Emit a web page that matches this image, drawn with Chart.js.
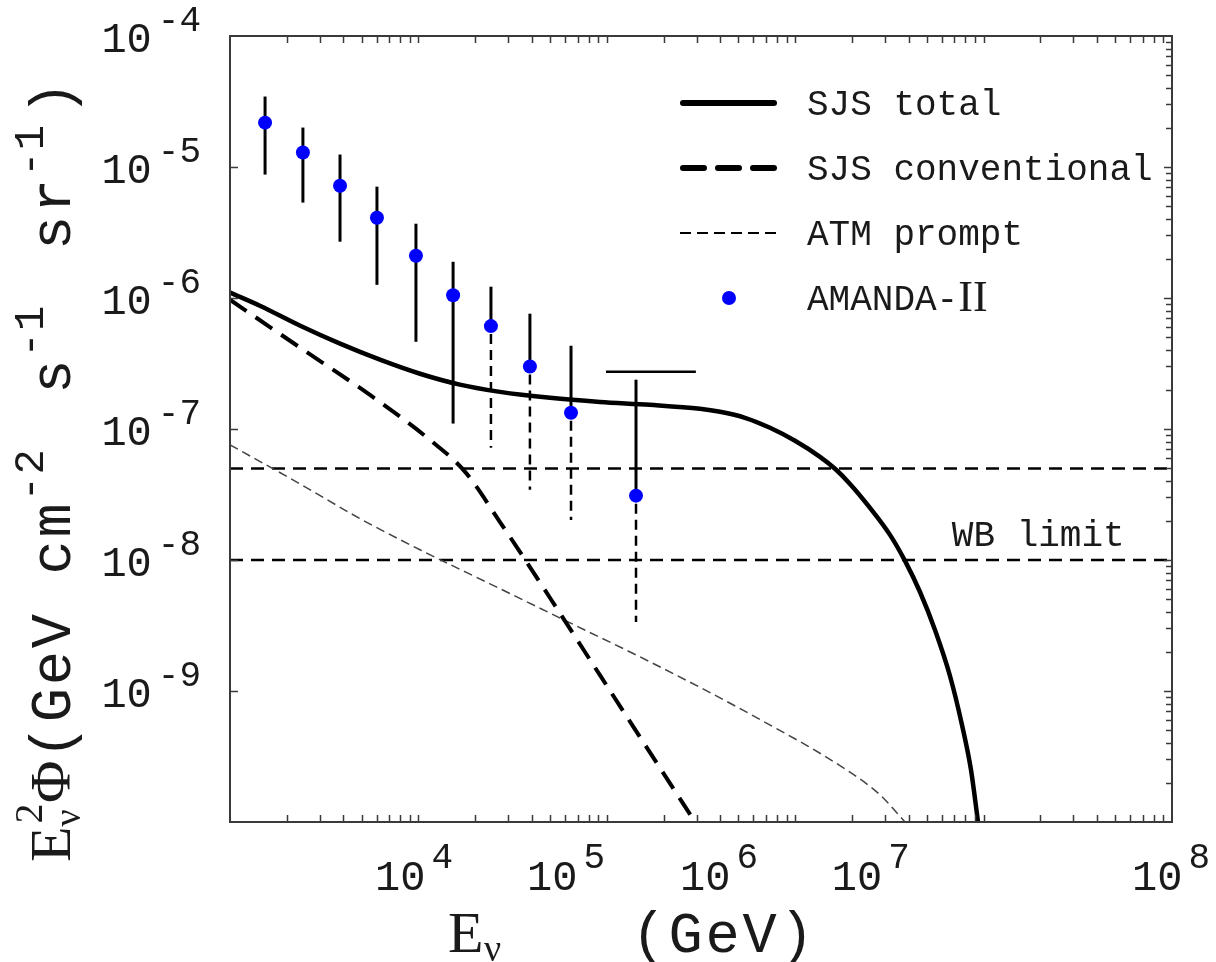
<!DOCTYPE html>
<html><head><meta charset="utf-8">
<script src="https://cdn.jsdelivr.net/npm/chart.js@4.4.1/dist/chart.umd.min.js"></script>
<style>html,body{margin:0;padding:0;background:#fff}canvas{display:block}</style>
</head><body>
<canvas id="c" width="1216" height="962"></canvas>
<script>
// ---------------- data ----------------
const amandaE      = [1535, 2438, 3837, 6026, 9705, 15280, 24270, 39080, 64570, 142900];
const amandaFlux   = [2.18e-5, 1.29e-5, 7.2e-6, 4.1e-6, 2.1e-6, 1.05e-6, 6.1e-7, 3.0e-7, 1.33e-7, 3.1e-8];
const amandaHigh   = [3.45e-5, 2.0e-5, 1.245e-5, 7.08e-6, 3.69e-6, 1.89e-6, 1.22e-6, 7.59e-7, 4.32e-7, 2.38e-7];
const amandaLow    = [8.75e-6, 5.35e-6, 2.69e-6, 1.26e-6, 4.63e-7, 1.10e-7, 7.2e-8, 3.44e-8, 2.02e-8, 3.37e-9];
const amandaLowDashed = [false, false, false, false, false, false, true, true, true, true];
const amandaLimitE = [9.9e4, 2.97e5];
const amandaLimitFlux = 2.73e-7;

const sjsTotalE    = [1e3, 1.44e3, 2.36e3, 3.84e3, 6.25e3, 1.02e4, 1.66e4, 2.71e4, 5.0e4, 9.2e4, 1.69e5, 3.124e5, 3.99e5, 5.414e5, 7.349e5, 9.975e5, 1.354e6, 1.627e6, 1.954e6, 2.495e6, 3.186e6, 3.827e6, 4.597e6, 5.521e6, 6.632e6, 7.68e6, 8.576e6, 9.34e6];
const sjsTotalFlux = [1.10e-6, 8.73e-7, 6.14e-7, 4.48e-7, 3.38e-7, 2.64e-7, 2.18e-7, 1.92e-7, 1.73e-7, 1.61e-7, 1.53e-7, 1.426e-7, 1.353e-7, 1.218e-7, 1.021e-7, 8.13e-8, 6.13e-8, 4.97e-8, 3.81e-8, 2.50e-8, 1.555e-8, 9.84e-9, 5.70e-9, 2.92e-9, 1.302e-9, 5.50e-10, 2.49e-10, 1e-10];

const sjsConvE     = [1e3, 2.36e3, 5.53e3, 1.15e4, 1.77e4, 2.71e4, 5.0e4, 9.2e4, 1.69e5, 2.94e5];
const sjsConvFlux  = [9.7e-7, 4.17e-7, 1.82e-7, 8.26e-8, 4.71e-8, 1.95e-8, 5.13e-9, 1.32e-9, 3.42e-10, 1e-10];

const atmPromptE    = [1e3, 2353, 4898, 10197, 23990, 62230, 169400, 575400, 1.954e6, 2.82e6, 3.83e6];
const atmPromptFlux = [7.57e-8, 3.81e-8, 2.07e-8, 1.197e-8, 6.58e-9, 3.37e-9, 1.67e-9, 6.67e-10, 2.40e-10, 1.61e-10, 1e-10];

const wbLevels = [5e-8, 1e-8];
const wbLabel = 'WB limit';
const wbLabelAt = [1.95e7, 1.27e-8];

const xRange = [1e3, 1e8];
const yRange = [1e-10, 1e-4];
const xTickExponents = ['4', '5', '6', '7', '8'];
const xTickLabelAt   = [9.48e3, 6.08e4, 3.945e5, 2.52e6, 9.89e7];
const yTickExponents = ['-4', '-5', '-6', '-7', '-8', '-9'];
const yTickValues    = [1e-4, 1e-5, 1e-6, 1e-7, 1e-8, 1e-9];
const legendLabels = ['SJS total', 'SJS conventional', 'ATM prompt', 'AMANDA-'];

// ---------------- helpers ----------------
const MONO = '"Liberation Mono", "DejaVu Sans Mono", monospace';
const SERIF = '"Liberation Serif", "DejaVu Serif", serif';
const INK = '#1a1a1a';
const toPts = (xs, ys) => xs.map((x, i) => ({x: x, y: ys[i]}));

function runsWidth(ctx, runs) {
  let w = 0;
  for (const r of runs) { ctx.font = r.f; w += (r.adv !== undefined ? r.adv : ctx.measureText(r.t).width) + (r.gap || 0); }
  return w;
}
function drawRuns(ctx, runs, x, y) {
  for (const r of runs) {
    ctx.font = r.f;
    ctx.fillText(r.t, x + (r.dx || 0), y + (r.dy || 0));
    x += (r.adv !== undefined ? r.adv : ctx.measureText(r.t).width) + (r.gap || 0);
  }
}
function drawCells(ctx, text, font, cell, x, y, draw) {
  ctx.font = font;
  for (const ch of text) {
    if (draw && ch !== ' ') ctx.fillText(ch, x + (cell - ctx.measureText(ch).width) / 2, y);
    x += cell;
  }
  return x;
}
function layoutTitle(ctx, pieces, A, x, y, draw) {
  for (const p of pieces) {
    if (p.serif) {
      ctx.font = p.f;
      const w = ctx.measureText(p.t).width;
      if (draw) ctx.fillText(p.t, x + (p.dx || 0), y + (p.dy || 0));
      x += (p.adv !== undefined ? p.adv : w) + (p.gap || 0) * A;
    } else {
      x = drawCells(ctx, p.t, p.f, A * p.cellK, x, y + (p.dy || 0), draw) + (p.gap || 0) * A;
    }
  }
  return x;
}

const yTitlePieces = [
  {t: 'E', f: '58px ' + SERIF, serif: true},
  {t: 'ν', f: '38px ' + SERIF, serif: true, dy: 10, adv: 0},
  {t: '2', f: '40px ' + SERIF, serif: true, dy: -28, dx: 3, gap: 0.1},
  {t: 'Φ', f: '58px ' + SERIF, serif: true},
  {t: '(GeV cm', f: '57px ' + MONO, cellK: 1},
  {t: '-2', f: '42px ' + MONO, cellK: 0.72, dy: -27, gap: 0.45},
  {t: ' s', f: '57px ' + MONO, cellK: 1},
  {t: '-1', f: '42px ' + MONO, cellK: 0.72, dy: -27, gap: 0.45},
  {t: ' sr', f: '57px ' + MONO, cellK: 1},
  {t: '-1', f: '42px ' + MONO, cellK: 0.72, dy: -27, gap: 0.2},
  {t: ')', f: '57px ' + MONO, cellK: 1}
];

const decor = {
  id: 'decor',
  beforeDatasetsDraw(chart) {
    const {ctx, scales: {x, y}} = chart;
    ctx.save();
    ctx.strokeStyle = '#000';
    ctx.lineCap = 'butt';
    for (let i = 0; i < amandaE.length; i++) {
      const px = x.getPixelForValue(amandaE[i]);
      const pc = y.getPixelForValue(amandaFlux[i]);
      const ph = y.getPixelForValue(amandaHigh[i]);
      const pl = y.getPixelForValue(amandaLow[i]);
      ctx.lineWidth = 3;
      ctx.setLineDash([]);
      ctx.beginPath(); ctx.moveTo(px, ph); ctx.lineTo(px, pc); ctx.stroke();
      if (amandaLowDashed[i]) { ctx.lineWidth = 2.5; ctx.setLineDash([10, 6]); }
      ctx.beginPath(); ctx.moveTo(px, pc + (amandaLowDashed[i] ? 8 : 0)); ctx.lineTo(px, pl); ctx.stroke();
    }
    ctx.setLineDash([]);
    ctx.lineWidth = 2.5;
    const ly = y.getPixelForValue(amandaLimitFlux);
    ctx.beginPath();
    ctx.moveTo(x.getPixelForValue(amandaLimitE[0]), ly);
    ctx.lineTo(x.getPixelForValue(amandaLimitE[1]), ly);
    ctx.stroke();
    ctx.restore();
  },
  afterDraw(chart) {
    const {ctx, chartArea: a, scales: {x, y}} = chart;
    ctx.save();
    ctx.strokeStyle = '#3a3a3a';
    ctx.lineWidth = 2;
    ctx.strokeRect(a.left, a.top, a.right - a.left, a.bottom - a.top);
    ctx.lineWidth = 1.5;
    ctx.beginPath();
    for (let k = 3; k <= 7; k++) {
      for (let n = 2; n <= 10; n++) {
        const v = n * Math.pow(10, k);
        if (v >= xRange[1]) continue;
        const px = Math.round(x.getPixelForValue(v)) + 0.5;
        ctx.moveTo(px, a.bottom); ctx.lineTo(px, a.bottom - 7);
        ctx.moveTo(px, a.top); ctx.lineTo(px, a.top + 7);
      }
    }
    for (let k = -10; k <= -5; k++) {
      for (let n = 1; n <= 9; n++) {
        const v = n * Math.pow(10, k);
        if (v <= yRange[0] * 1.0001) continue;
        const py = Math.round(y.getPixelForValue(v)) + 0.5;
        ctx.moveTo(a.right, py); ctx.lineTo(a.right - (n === 1 ? 8 : 6), py);
        if (n === 1) { ctx.moveTo(a.left, py); ctx.lineTo(a.left + 8, py); }
      }
    }
    ctx.stroke();

    ctx.fillStyle = INK;
    ctx.textBaseline = 'alphabetic';
    ctx.textAlign = 'left';
    for (let i = 0; i < yTickValues.length; i++) {
      const py = y.getPixelForValue(yTickValues[i]);
      const runs = [{t: '10', f: '42px ' + MONO, gap: 6}, {t: yTickExponents[i], f: '36px ' + MONO, dy: -21}];
      const w = runsWidth(ctx, runs);
      drawRuns(ctx, runs, 201 - w, py + 16);
    }
    for (let i = 0; i < xTickExponents.length; i++) {
      const px = x.getPixelForValue(xTickLabelAt[i]);
      const runs = [{t: '10', f: '42px ' + MONO, gap: 6}, {t: xTickExponents[i], f: '36px ' + MONO, dy: -22}];
      const w = runsWidth(ctx, runs);
      drawRuns(ctx, runs, px - w / 2, 890);
    }
    // x axis title
    {
      ctx.font = '58px ' + SERIF;
      ctx.fillText('E', 448, 952);
      ctx.font = '38px ' + SERIF;
      ctx.fillText('ν', 448 + 36, 961);
      drawCells(ctx, '(GeV)', '57px ' + MONO, 37, 630, 952, true);
    }
    // y axis title (rotated)
    {
      ctx.save();
      ctx.translate(70, 0);
      ctx.rotate(-Math.PI / 2);
      const top = 80, bottom = 862;
      const w1 = layoutTitle(ctx, yTitlePieces, 1, 0, 0, false);
      const w2 = layoutTitle(ctx, yTitlePieces, 2, 0, 0, false);
      const A = 1 + ((bottom - top) - w1) / (w2 - w1);
      layoutTitle(ctx, yTitlePieces, A, -bottom, 0, true);
      ctx.restore();
    }
    ctx.font = '36px ' + MONO;
    ctx.textAlign = 'center';
    ctx.fillText(wbLabel, x.getPixelForValue(wbLabelAt[0]), y.getPixelForValue(wbLabelAt[1]));
    // legend
    ctx.textAlign = 'left';
    const rows = [103, 168, 233, 298];
    ctx.strokeStyle = '#000';
    ctx.lineCap = 'round';
    ctx.lineWidth = 6; ctx.setLineDash([]);
    ctx.beginPath(); ctx.moveTo(683, rows[0]); ctx.lineTo(774, rows[0]); ctx.stroke();
    ctx.setLineDash([21, 14]); ctx.lineDashOffset = 0;
    ctx.beginPath(); ctx.moveTo(683, rows[1]); ctx.lineTo(774, rows[1]); ctx.stroke();
    ctx.lineCap = 'butt'; ctx.lineWidth = 2; ctx.setLineDash([11, 6]);
    ctx.beginPath(); ctx.moveTo(680, rows[2]); ctx.lineTo(777, rows[2]); ctx.stroke();
    ctx.setLineDash([]);
    ctx.fillStyle = '#0000ff';
    ctx.beginPath(); ctx.arc(729, rows[3], 7, 0, Math.PI * 2); ctx.fill();
    ctx.fillStyle = INK;
    ctx.font = '36px ' + MONO;
    for (let i = 0; i < 3; i++) ctx.fillText(legendLabels[i], 807, rows[i] + 12);
    ctx.fillText(legendLabels[3], 807, rows[3] + 12);
    const aw = ctx.measureText(legendLabels[3]).width;
    ctx.font = '44px ' + SERIF;
    ctx.fillText('II', 807 + aw, rows[3] + 13);
    ctx.restore();
  }
};

new Chart(document.getElementById('c'), {
  type: 'line',
  data: {
    datasets: [
      {label: 'AMANDA-II', data: toPts(amandaE, amandaFlux), showLine: false, pointRadius: 7,
       pointBackgroundColor: '#0000ff', pointBorderWidth: 0, borderColor: '#0000ff', order: 0},
      {label: 'SJS total', data: toPts(sjsTotalE, sjsTotalFlux), borderColor: '#000', borderWidth: 4.5,
       pointRadius: 0, cubicInterpolationMode: 'monotone', order: 1},
      {label: 'SJS conventional', data: toPts(sjsConvE, sjsConvFlux), borderColor: '#000', borderWidth: 4,
       borderDash: [20, 11], pointRadius: 0, cubicInterpolationMode: 'monotone', order: 2},
      {label: 'ATM prompt', data: toPts(atmPromptE, atmPromptFlux), borderColor: '#444', borderWidth: 1.5,
       borderDash: [9, 5], pointRadius: 0, cubicInterpolationMode: 'monotone', order: 3},
      {label: 'WB 5e-8', data: toPts(xRange, [wbLevels[0], wbLevels[0]]), borderColor: '#000', borderWidth: 2.5,
       borderDash: [13, 8], pointRadius: 0, order: 4},
      {label: 'WB 1e-8', data: toPts(xRange, [wbLevels[1], wbLevels[1]]), borderColor: '#000', borderWidth: 2.5,
       borderDash: [13, 8], pointRadius: 0, order: 5}
    ]
  },
  options: {
    responsive: false,
    animation: false,
    devicePixelRatio: 1,
    layout: {padding: {left: 230, top: 36, right: 44, bottom: 140}},
    plugins: {legend: {display: false}, tooltip: {enabled: false}},
    scales: {
      x: {type: 'logarithmic', min: xRange[0], max: xRange[1], display: false},
      y: {type: 'logarithmic', min: yRange[0], max: yRange[1], display: false}
    }
  },
  plugins: [decor]
});
</script>
</body></html>
